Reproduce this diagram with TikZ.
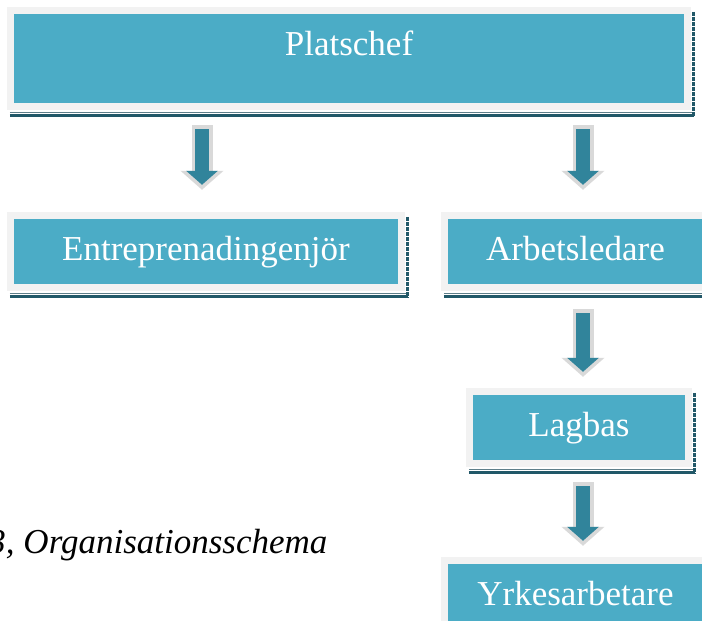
\documentclass[tikz,border=0pt]{standalone}
\usepackage{fontspec}
\setmainfont{Liberation Serif}
\usepackage{xcolor}
\usepackage{tikz}
\usetikzlibrary{arrows.meta,calc}
\definecolor{OrgTeal}{HTML}{4BACC6}
\definecolor{OrgFrame}{HTML}{F2F2F2}
\definecolor{OrgArrow}{HTML}{31849B}
\definecolor{OrgRim}{HTML}{D9D9D9}
\definecolor{OrgShadow}{HTML}{215868}
\definecolor{OrgEdge}{HTML}{5E7F8A}

\begin{document}
\begin{tikzpicture}[
  x=1pt,y=1pt,
  role/.style={fill=OrgTeal,preaction={draw=OrgFrame,line width=14pt},
    inner sep=0pt,text height=42pt,text depth=23pt,text=white,
    font=\fontsize{35pt}{40pt}\selectfont},
  flow/.style 2 args={draw=OrgRim,line width=21pt,
    shorten <=#1,shorten >=#2,-{Triangle[width=42pt,length=19pt]},
    postaction={draw=OrgArrow,line width=14pt,
      shorten <=#1+4pt,shorten >=#2+5pt,-{Triangle[width=31pt,length=14pt]}}}
]
  \useasboundingbox (0,0) rectangle (702,621);

  \node[role,minimum width=670pt,text depth=47pt] (plat) at (349,562.5) {Platschef};
  \node[role,minimum width=384pt] (ent) at (206,369.5) {Entreprenadingenjör};
  \node[role,minimum width=255pt] (arb) at (575.5,369.5) {Arbetsledare};
  \node[role,minimum width=212pt] (lag) at (579,193.5) {Lagbas};
  \node[role,minimum width=255pt] (yrk) at (575.5,24.5) {Yrkesarbetare};

  % double rule under each box and dashed edge on the right
  \foreach \n in {plat,ent,arb,lag,yrk} {
    \draw[OrgEdge,line width=1.2pt] ([xshift=-4pt,yshift=-9pt]\n.south west) -- ([xshift=10pt,yshift=-9pt]\n.south east);
    \draw[OrgShadow,line width=3pt] ([xshift=-4pt,yshift=-12pt]\n.south west) -- ([xshift=10pt,yshift=-12pt]\n.south east);
    \draw[OrgShadow,line width=3pt,dash pattern=on 4pt off 1pt] ([xshift=9pt,yshift=2pt]\n.north east) -- ([xshift=9pt,yshift=-13pt]\n.south east);
  }

  \draw[flow={22pt}{29pt}] ([xshift=-4pt]ent.north |- plat.south) -- ([xshift=-4pt]ent.north);
  \draw[flow={22pt}{29pt}] ([xshift=4pt]lag.north |- plat.south) -- ([xshift=4pt]lag.north |- arb.north);
  \draw[flow={25pt}{18pt}] ([xshift=4pt]lag.north |- arb.south) -- ([xshift=4pt]lag.north);
  \draw[flow={22pt}{18pt}] ([xshift=4pt]lag.south) -- ([xshift=4pt]lag.south |- yrk.north);

  \node[font=\fontsize{35pt}{40pt}\selectfont\itshape,anchor=base east] (cap) at (331,67) {3, Organisationsschema};
\end{tikzpicture}
\end{document}
